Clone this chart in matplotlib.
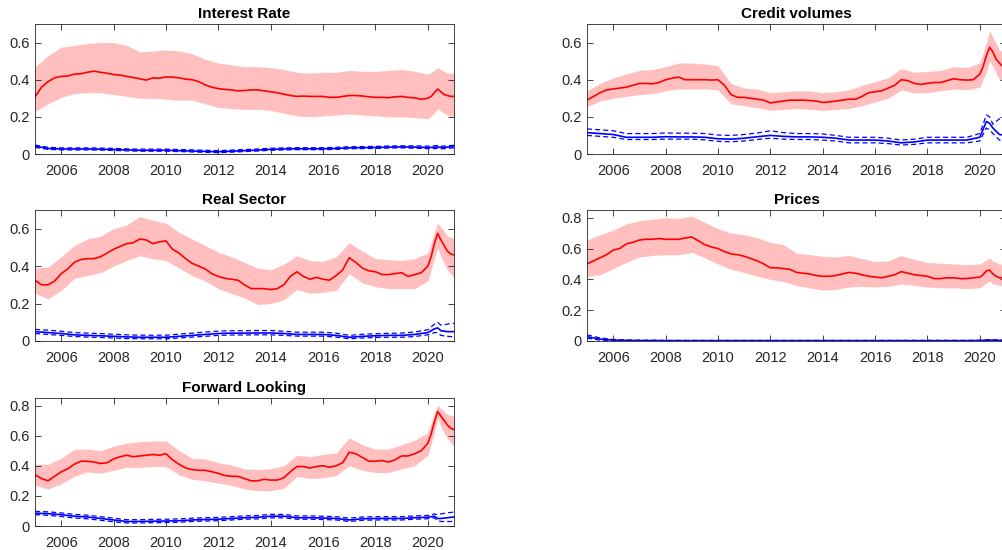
import numpy as np
import matplotlib.pyplot as plt
from matplotlib.ticker import FuncFormatter

plt.rcParams['font.family'] = ['Liberation Sans', 'DejaVu Sans']

# time axes (fractional years)
t_mean = np.concatenate([np.arange(2005, 2020, 0.25), np.arange(2020, 2021.01, 0.125)])
t_band = np.concatenate([np.arange(2005, 2020, 0.5), [2020, 2020.25, 2020.375, 2020.5, 2020.75, 2021]])

# ---- Interest Rate
ir_mean = [0.307, 0.36, 0.39, 0.41, 0.418, 0.42, 0.43, 0.432, 0.44, 0.446, 0.44, 0.435,
           0.428, 0.425, 0.418, 0.412, 0.405, 0.398, 0.41, 0.408, 0.415, 0.414, 0.41, 0.403,
           0.40, 0.39, 0.372, 0.36, 0.352, 0.348, 0.345, 0.34, 0.342, 0.345, 0.345, 0.34,
           0.335, 0.33, 0.322, 0.315, 0.31, 0.312, 0.31, 0.31, 0.31, 0.305, 0.305, 0.31,
           0.315, 0.315, 0.312, 0.308, 0.305, 0.305, 0.303, 0.308, 0.31, 0.305, 0.302, 0.295,
           0.30, 0.31, 0.33, 0.35, 0.335, 0.32, 0.315, 0.31, 0.31]
ir_hi = [0.468, 0.53, 0.575, 0.585, 0.595, 0.60, 0.60, 0.585, 0.55, 0.555, 0.56, 0.555,
         0.54, 0.51, 0.49, 0.48, 0.47, 0.47, 0.465, 0.455, 0.44, 0.435, 0.44, 0.44,
         0.45, 0.445, 0.445, 0.45, 0.455, 0.445, 0.43, 0.45, 0.465, 0.455, 0.435, 0.435]
ir_lo = [0.23, 0.27, 0.305, 0.325, 0.33, 0.33, 0.32, 0.31, 0.30, 0.30, 0.295, 0.29,
         0.29, 0.27, 0.25, 0.245, 0.24, 0.24, 0.235, 0.22, 0.205, 0.20, 0.205, 0.21,
         0.215, 0.21, 0.205, 0.20, 0.20, 0.195, 0.19, 0.22, 0.245, 0.23, 0.21, 0.20]
ir_b = [0.042, 0.03, 0.027, 0.027, 0.027, 0.026, 0.024, 0.022, 0.02, 0.02, 0.02, 0.018,
        0.016, 0.014, 0.012, 0.015, 0.018, 0.021, 0.025, 0.027, 0.028, 0.028, 0.028, 0.03,
        0.033, 0.034, 0.035, 0.037, 0.038, 0.037, 0.035, 0.036, 0.038, 0.035, 0.037, 0.04]
ir_bhi = [0.048, 0.036, 0.033, 0.033, 0.033, 0.032, 0.030, 0.028, 0.026, 0.026, 0.026, 0.024,
          0.022, 0.020, 0.018, 0.021, 0.024, 0.027, 0.031, 0.033, 0.034, 0.034, 0.034, 0.036,
          0.039, 0.040, 0.041, 0.043, 0.044, 0.044, 0.042, 0.044, 0.046, 0.042, 0.044, 0.047]
ir_blo = [0.036, 0.025, 0.022, 0.022, 0.022, 0.021, 0.019, 0.017, 0.015, 0.015, 0.015, 0.013,
          0.011, 0.009, 0.007, 0.010, 0.013, 0.016, 0.020, 0.022, 0.023, 0.023, 0.023, 0.025,
          0.028, 0.029, 0.030, 0.032, 0.033, 0.031, 0.029, 0.029, 0.031, 0.028, 0.030, 0.033]

# ---- Credit volumes
cv_mean = [0.29, 0.31, 0.33, 0.345, 0.35, 0.355, 0.36, 0.37, 0.38, 0.38, 0.378, 0.385,
           0.40, 0.408, 0.414, 0.40, 0.40, 0.40, 0.40, 0.398, 0.40, 0.37, 0.32, 0.305,
           0.305, 0.30, 0.295, 0.29, 0.275, 0.28, 0.285, 0.29, 0.29, 0.29, 0.288, 0.285,
           0.278, 0.28, 0.285, 0.29, 0.295, 0.295, 0.31, 0.33, 0.335, 0.34, 0.355, 0.37,
           0.40, 0.395, 0.38, 0.375, 0.38, 0.385, 0.385, 0.395, 0.405, 0.40, 0.398, 0.40,
           0.43, 0.47, 0.53, 0.575, 0.55, 0.51, 0.49, 0.47, 0.46]
cv_hi = [0.34, 0.38, 0.41, 0.43, 0.45, 0.455, 0.47, 0.49, 0.49, 0.485, 0.475, 0.38,
         0.355, 0.35, 0.33, 0.335, 0.34, 0.34, 0.33, 0.335, 0.345, 0.37, 0.39, 0.41,
         0.46, 0.44, 0.445, 0.45, 0.47, 0.465, 0.49, 0.60, 0.665, 0.63, 0.56, 0.54]
cv_lo = [0.255, 0.285, 0.30, 0.31, 0.32, 0.325, 0.34, 0.35, 0.35, 0.35, 0.345, 0.27,
         0.26, 0.25, 0.235, 0.24, 0.245, 0.24, 0.235, 0.24, 0.245, 0.26, 0.28, 0.30,
         0.345, 0.33, 0.33, 0.34, 0.35, 0.345, 0.36, 0.44, 0.50, 0.47, 0.40, 0.38]
cv_b = [0.115, 0.11, 0.105, 0.09, 0.09, 0.09, 0.093, 0.092, 0.092, 0.09, 0.082, 0.08,
        0.085, 0.093, 0.10, 0.095, 0.092, 0.092, 0.09, 0.085, 0.075, 0.075, 0.075, 0.07,
        0.06, 0.065, 0.075, 0.075, 0.075, 0.075, 0.09, 0.175, 0.165, 0.14, 0.105, 0.10]
cv_bhi = [0.135, 0.13, 0.125, 0.11, 0.11, 0.11, 0.113, 0.112, 0.112, 0.11, 0.102, 0.10,
          0.105, 0.113, 0.125, 0.115, 0.11, 0.11, 0.108, 0.10, 0.09, 0.09, 0.09, 0.085,
          0.075, 0.08, 0.09, 0.09, 0.09, 0.09, 0.11, 0.21, 0.20, 0.16, 0.19, 0.20]
cv_blo = [0.10, 0.095, 0.09, 0.078, 0.078, 0.078, 0.08, 0.08, 0.08, 0.076, 0.068, 0.066,
          0.07, 0.078, 0.085, 0.08, 0.078, 0.078, 0.075, 0.07, 0.06, 0.06, 0.06, 0.056,
          0.048, 0.052, 0.06, 0.06, 0.06, 0.06, 0.07, 0.14, 0.13, 0.11, 0.075, 0.07]

# ---- Real Sector
rs_mean = [0.325, 0.30, 0.30, 0.32, 0.36, 0.385, 0.42, 0.435, 0.44, 0.44, 0.45, 0.47,
           0.49, 0.505, 0.52, 0.525, 0.545, 0.54, 0.52, 0.53, 0.535, 0.49, 0.47, 0.44,
           0.415, 0.40, 0.385, 0.36, 0.345, 0.335, 0.33, 0.325, 0.30, 0.28, 0.28, 0.28,
           0.275, 0.28, 0.30, 0.345, 0.37, 0.345, 0.33, 0.34, 0.33, 0.325, 0.35, 0.38,
           0.445, 0.42, 0.39, 0.375, 0.37, 0.355, 0.355, 0.36, 0.365, 0.345, 0.355, 0.365,
           0.40, 0.45, 0.52, 0.575, 0.54, 0.51, 0.48, 0.465, 0.46]
rs_hi = [0.39, 0.395, 0.45, 0.51, 0.545, 0.56, 0.60, 0.62, 0.665, 0.645, 0.63, 0.58,
         0.545, 0.51, 0.475, 0.45, 0.42, 0.39, 0.38, 0.41, 0.455, 0.43, 0.425, 0.45,
         0.525, 0.48, 0.44, 0.435, 0.43, 0.44, 0.47, 0.58, 0.63, 0.61, 0.56, 0.55]
rs_lo = [0.255, 0.225, 0.27, 0.335, 0.35, 0.365, 0.40, 0.43, 0.455, 0.44, 0.43, 0.39,
         0.35, 0.32, 0.28, 0.255, 0.23, 0.195, 0.20, 0.22, 0.275, 0.255, 0.26, 0.27,
         0.36, 0.31, 0.29, 0.28, 0.28, 0.28, 0.32, 0.44, 0.50, 0.45, 0.38, 0.34]
rs_b = [0.05, 0.045, 0.04, 0.033, 0.03, 0.028, 0.025, 0.022, 0.02, 0.02, 0.02, 0.025,
        0.03, 0.035, 0.04, 0.042, 0.042, 0.043, 0.043, 0.04, 0.035, 0.035, 0.035, 0.03,
        0.02, 0.025, 0.028, 0.03, 0.03, 0.035, 0.045, 0.065, 0.07, 0.055, 0.05, 0.05]
rs_bhi = [0.062, 0.058, 0.052, 0.045, 0.042, 0.04, 0.036, 0.033, 0.031, 0.031, 0.031, 0.037,
          0.042, 0.048, 0.053, 0.055, 0.055, 0.056, 0.056, 0.052, 0.047, 0.047, 0.047, 0.042,
          0.03, 0.036, 0.039, 0.041, 0.042, 0.048, 0.06, 0.09, 0.10, 0.085, 0.09, 0.095]
rs_blo = [0.04, 0.035, 0.03, 0.024, 0.021, 0.019, 0.016, 0.013, 0.012, 0.012, 0.012, 0.016,
          0.021, 0.025, 0.03, 0.032, 0.032, 0.033, 0.033, 0.03, 0.026, 0.026, 0.026, 0.021,
          0.012, 0.016, 0.019, 0.02, 0.02, 0.024, 0.033, 0.045, 0.045, 0.03, 0.025, 0.022]

# ---- Prices
pr_mean = [0.50, 0.52, 0.54, 0.56, 0.59, 0.60, 0.63, 0.64, 0.655, 0.66, 0.66, 0.665,
           0.66, 0.66, 0.66, 0.668, 0.675, 0.65, 0.625, 0.61, 0.60, 0.58, 0.565, 0.56,
           0.55, 0.535, 0.52, 0.50, 0.475, 0.475, 0.47, 0.465, 0.445, 0.44, 0.435, 0.425,
           0.42, 0.42, 0.425, 0.435, 0.445, 0.44, 0.43, 0.42, 0.415, 0.41, 0.42, 0.43,
           0.45, 0.44, 0.43, 0.425, 0.42, 0.405, 0.405, 0.41, 0.41, 0.405, 0.405, 0.41,
           0.415, 0.43, 0.455, 0.46, 0.435, 0.42, 0.41, 0.41, 0.41]
pr_hi = [0.655, 0.69, 0.72, 0.76, 0.78, 0.79, 0.80, 0.795, 0.81, 0.77, 0.73, 0.70,
         0.69, 0.67, 0.64, 0.625, 0.57, 0.56, 0.55, 0.545, 0.555, 0.535, 0.515, 0.52,
         0.555, 0.53, 0.51, 0.505, 0.50, 0.495, 0.50, 0.525, 0.54, 0.52, 0.50, 0.50]
pr_lo = [0.42, 0.43, 0.47, 0.51, 0.545, 0.555, 0.56, 0.56, 0.575, 0.54, 0.50, 0.465,
         0.445, 0.42, 0.40, 0.385, 0.36, 0.345, 0.33, 0.335, 0.35, 0.355, 0.35, 0.355,
         0.37, 0.36, 0.35, 0.345, 0.345, 0.34, 0.345, 0.375, 0.39, 0.37, 0.36, 0.355]
pr_b = [0.028, 0.012, 0.006, 0.004, 0.003, 0.003, 0.002, 0.002, 0.002, 0.002, 0.002, 0.002,
        0.002, 0.002, 0.002, 0.002, 0.002, 0.002, 0.002, 0.002, 0.002, 0.002, 0.002, 0.002,
        0.002, 0.002, 0.002, 0.002, 0.002, 0.002, 0.003, 0.005, 0.006, 0.005, 0.004, 0.004]
pr_bhi = [0.04, 0.02, 0.01, 0.007, 0.005, 0.005, 0.004, 0.004, 0.004, 0.004, 0.004, 0.004,
          0.004, 0.004, 0.004, 0.004, 0.004, 0.004, 0.004, 0.004, 0.004, 0.004, 0.004, 0.004,
          0.004, 0.004, 0.004, 0.004, 0.004, 0.004, 0.005, 0.008, 0.009, 0.008, 0.007, 0.007]
pr_blo = [0.018, 0.006, 0.002, 0.001, 0.001, 0.001, 0.0, 0.0, 0.0, 0.0, 0.0, 0.0,
          0.0, 0.0, 0.0, 0.0, 0.0, 0.0, 0.0, 0.0, 0.0, 0.0, 0.0, 0.0,
          0.0, 0.0, 0.0, 0.0, 0.0, 0.0, 0.001, 0.002, 0.003, 0.002, 0.001, 0.001]

# ---- Forward Looking
fl_mean = [0.34, 0.315, 0.30, 0.33, 0.36, 0.38, 0.41, 0.43, 0.43, 0.425, 0.415, 0.42,
           0.445, 0.46, 0.47, 0.46, 0.465, 0.47, 0.475, 0.47, 0.48, 0.44, 0.41, 0.385,
           0.375, 0.37, 0.37, 0.36, 0.35, 0.335, 0.33, 0.33, 0.315, 0.30, 0.30, 0.31,
           0.305, 0.305, 0.32, 0.36, 0.395, 0.395, 0.385, 0.395, 0.40, 0.39, 0.40, 0.42,
           0.49, 0.48, 0.455, 0.43, 0.43, 0.435, 0.425, 0.44, 0.465, 0.465, 0.48, 0.50,
           0.55, 0.61, 0.69, 0.76, 0.73, 0.70, 0.67, 0.65, 0.64]
fl_hi = [0.41, 0.41, 0.45, 0.51, 0.51, 0.50, 0.53, 0.55, 0.56, 0.565, 0.565, 0.50,
         0.45, 0.445, 0.42, 0.405, 0.38, 0.375, 0.38, 0.40, 0.47, 0.46, 0.475, 0.485,
         0.585, 0.54, 0.51, 0.51, 0.54, 0.57, 0.62, 0.75, 0.80, 0.78, 0.74, 0.73]
fl_lo = [0.27, 0.245, 0.28, 0.33, 0.36, 0.35, 0.37, 0.39, 0.39, 0.395, 0.395, 0.34,
         0.31, 0.30, 0.285, 0.27, 0.245, 0.235, 0.235, 0.25, 0.33, 0.315, 0.32, 0.335,
         0.40, 0.37, 0.355, 0.355, 0.38, 0.40, 0.47, 0.62, 0.72, 0.66, 0.58, 0.53]
fl_b = [0.085, 0.082, 0.075, 0.065, 0.06, 0.05, 0.04, 0.03, 0.03, 0.032, 0.033, 0.035,
        0.04, 0.043, 0.045, 0.05, 0.055, 0.058, 0.065, 0.065, 0.055, 0.055, 0.053, 0.05,
        0.04, 0.048, 0.05, 0.05, 0.05, 0.055, 0.058, 0.065, 0.05, 0.05, 0.055, 0.06]
fl_bhi = [0.097, 0.094, 0.087, 0.077, 0.072, 0.062, 0.052, 0.042, 0.042, 0.044, 0.045, 0.047,
          0.052, 0.055, 0.057, 0.062, 0.067, 0.07, 0.077, 0.077, 0.067, 0.067, 0.065, 0.062,
          0.052, 0.06, 0.062, 0.062, 0.062, 0.067, 0.07, 0.08, 0.075, 0.08, 0.088, 0.092]
fl_blo = [0.075, 0.071, 0.063, 0.053, 0.048, 0.038, 0.028, 0.02, 0.02, 0.022, 0.023, 0.025,
          0.03, 0.033, 0.035, 0.04, 0.045, 0.047, 0.054, 0.054, 0.045, 0.045, 0.043, 0.04,
          0.03, 0.038, 0.04, 0.04, 0.04, 0.045, 0.048, 0.055, 0.035, 0.03, 0.03, 0.03]

W, H = 1003, 550
fig = plt.figure(figsize=(W / 100, H / 100), dpi=100)
dark = (0.15, 0.15, 0.15)


def panel(left, top, bottom, title, mean, lo, hi, b, blo, bhi, ymax, yticks):
    ax = fig.add_axes([left / W, 1 - bottom / H, 419 / W, (bottom - top) / H])
    ax.fill_between(t_band, lo, hi, color=(1, 0.75, 0.75), lw=0)
    ax.plot(t_mean, mean, color='r', lw=1.2)
    ax.plot(t_band, bhi, color='b', lw=0.9, ls=(0, (4, 2.5)))
    ax.plot(t_band, blo, color='b', lw=0.9, ls=(0, (4, 2.5)))
    ax.plot(t_band, b, color='b', lw=1.2)
    ax.set_xlim(2005, 2021)
    ax.set_ylim(0, ymax)
    ax.set_xticks(range(2006, 2021, 2))
    ax.set_yticks(yticks)
    ax.yaxis.set_major_formatter(FuncFormatter(lambda v, p: '%g' % v))
    ax.tick_params(direction='in', top=True, right=True, length=4, width=0.6,
                   colors=dark, labelsize=10.5)
    ax.tick_params(axis='x', pad=7)
    ax.tick_params(axis='y', pad=4)
    for s in ax.spines.values():
        s.set_color(dark)
        s.set_linewidth(0.6)
    ax.set_title(title, fontsize=11, fontweight='bold', pad=4)
    return ax


panel(35, 24, 154, 'Interest Rate', ir_mean, ir_lo, ir_hi, ir_b, ir_blo, ir_bhi, 0.7, [0, 0.2, 0.4, 0.6])
panel(587, 24, 154, 'Credit volumes', cv_mean, cv_lo, cv_hi, cv_b, cv_blo, cv_bhi, 0.7, [0, 0.2, 0.4, 0.6])
panel(35, 210, 341, 'Real Sector', rs_mean, rs_lo, rs_hi, rs_b, rs_blo, rs_bhi, 0.7, [0, 0.2, 0.4, 0.6])
panel(587, 210, 341, 'Prices', pr_mean, pr_lo, pr_hi, pr_b, pr_blo, pr_bhi, 0.85, [0, 0.2, 0.4, 0.6, 0.8])
panel(35, 398, 526, 'Forward Looking', fl_mean, fl_lo, fl_hi, fl_b, fl_blo, fl_bhi, 0.85, [0, 0.2, 0.4, 0.6, 0.8])

fig.savefig('out.png', dpi=100)
